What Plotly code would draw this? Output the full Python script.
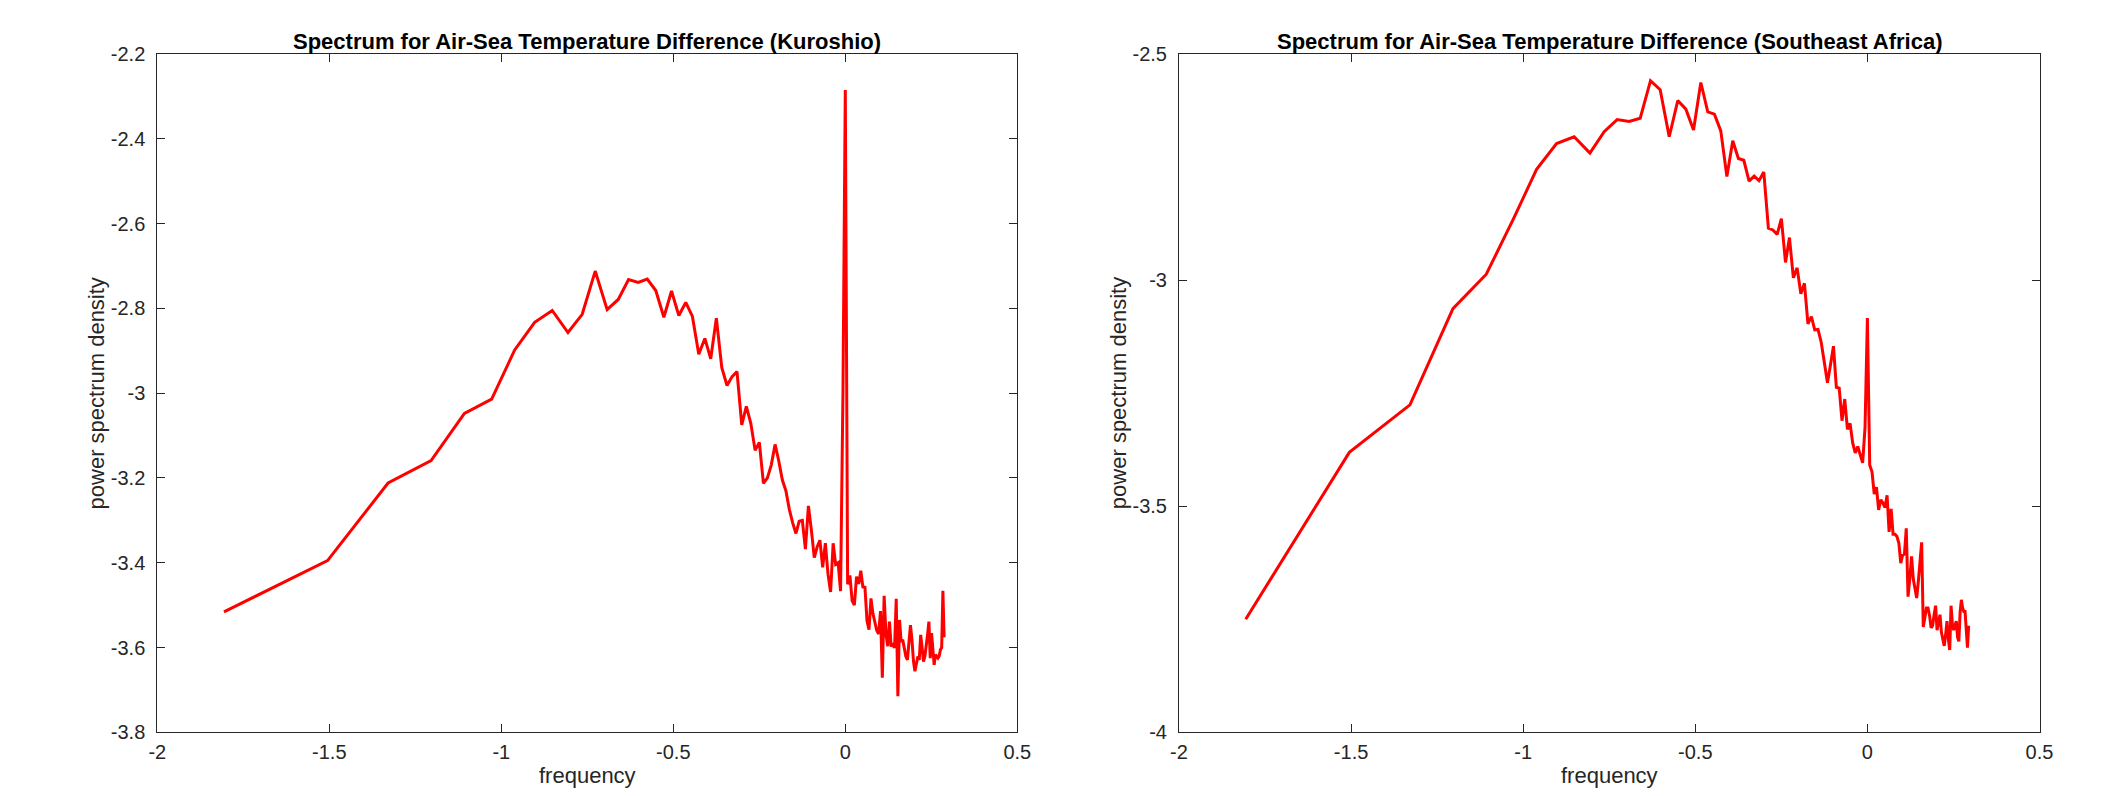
import math
import plotly.graph_objects as go

# Harmonic number k of each spectral estimate; frequency = k/64 (log10 on the x axis)
harmonic_kuroshio = list(range(1, 125))
harmonic_africa = list(range(1, 127))

psd_kuroshio = [
    -3.516, -3.395, -3.212, -3.159, -3.048, -3.014, -2.898, -2.833, -2.805, -2.857,
    -2.814, -2.712, -2.803, -2.779, -2.732, -2.739, -2.731, -2.758, -2.821, -2.759,
    -2.817, -2.786, -2.819, -2.908, -2.871, -2.919, -2.823, -2.940, -2.982, -2.961,
    -2.949, -3.075, -3.031, -3.071, -3.135, -3.116, -3.213, -3.200, -3.169, -3.121,
    -3.160, -3.205, -3.230, -3.274, -3.306, -3.331, -3.302, -3.300, -3.368, -3.266,
    -3.323, -3.388, -3.363, -3.347, -3.411, -3.354, -3.427, -3.469, -3.354, -3.404,
    -3.400, -3.467, -3.000, -2.285, -3.451, -3.430, -3.490, -3.500, -3.433, -3.450,
    -3.419, -3.457, -3.458, -3.537, -3.558, -3.484, -3.520, -3.540, -3.560, -3.568,
    -3.514, -3.671, -3.478, -3.567, -3.597, -3.539, -3.598, -3.590, -3.601, -3.485,
    -3.715, -3.535, -3.586, -3.582, -3.600, -3.621, -3.629, -3.590, -3.547, -3.582,
    -3.632, -3.656, -3.640, -3.621, -3.629, -3.570, -3.600, -3.633, -3.621, -3.598,
    -3.570, -3.539, -3.625, -3.566, -3.600, -3.641, -3.617, -3.620, -3.625, -3.620,
    -3.605, -3.600, -3.466, -3.576,
]

psd_africa = [
    -3.750, -3.381, -3.276, -3.063, -2.987, -2.864, -2.755, -2.698, -2.683, -2.719,
    -2.672, -2.645, -2.649, -2.642, -2.559, -2.579, -2.683, -2.603, -2.622, -2.668,
    -2.563, -2.628, -2.633, -2.670, -2.771, -2.692, -2.731, -2.735, -2.781, -2.770,
    -2.780, -2.761, -2.885, -2.889, -2.899, -2.864, -2.961, -2.906, -2.995, -2.973,
    -3.030, -3.007, -3.097, -3.081, -3.110, -3.109, -3.138, -3.182, -3.227, -3.187,
    -3.146, -3.237, -3.239, -3.311, -3.263, -3.330, -3.317, -3.360, -3.382, -3.368,
    -3.385, -3.404, -3.325, -3.084, -3.409, -3.424, -3.473, -3.458, -3.508, -3.486,
    -3.493, -3.503, -3.476, -3.557, -3.506, -3.562, -3.562, -3.567, -3.582, -3.626,
    -3.608, -3.606, -3.549, -3.700, -3.660, -3.611, -3.661, -3.680, -3.703, -3.666,
    -3.626, -3.580, -3.767, -3.740, -3.725, -3.725, -3.742, -3.769, -3.764, -3.740,
    -3.720, -3.774, -3.759, -3.740, -3.779, -3.794, -3.809, -3.784, -3.754, -3.794,
    -3.818, -3.720, -3.760, -3.774, -3.765, -3.754, -3.790, -3.799, -3.735, -3.707,
    -3.725, -3.733, -3.733, -3.770, -3.813, -3.764,
]

x_ticks = [-2, -1.5, -1, -0.5, 0, 0.5]
x_ticklabels = ["-2", "-1.5", "-1", "-0.5", "0", "0.5"]
y_ticks_kuroshio = [-3.8, -3.6, -3.4, -3.2, -3.0, -2.8, -2.6, -2.4, -2.2]
y_ticklabels_kuroshio = ["-3.8", "-3.6", "-3.4", "-3.2", "-3", "-2.8", "-2.6", "-2.4", "-2.2"]
y_ticks_africa = [-4, -3.5, -3, -2.5]
y_ticklabels_africa = ["-4", "-3.5", "-3", "-2.5"]

titles = ["Spectrum for Air-Sea Temperature Difference (Kuroshio)",
          "Spectrum for Air-Sea Temperature Difference (Southeast Africa)"]
x_label = "frequency"
y_label = "power spectrum density"

freq_kuroshio = [math.log10(k / 64) for k in harmonic_kuroshio]
freq_africa = [math.log10(k / 64) for k in harmonic_africa]

# The page body has an 8 px margin, so the figure is drawn 8 px smaller and
# all positions below are page positions minus that offset.
OFF = 8
W, H = 2103 - OFF, 796 - OFF
FONT = "Liberation Sans"
AX = "#262626"


def px(xpage):
    return (xpage - OFF) / W


def py(ypage):
    return 1 - (ypage - OFF) / H


dom_left = [px(157.3), px(1017.3)]
dom_right = [px(1179.0), px(2039.5)]
dom_y = [py(732.3), py(54.0)]

fig = go.Figure()
fig.add_trace(go.Scatter(x=freq_kuroshio, y=psd_kuroshio, mode="lines",
                         line=dict(color="#FF0000", width=3), xaxis="x", yaxis="y",
                         showlegend=False, hoverinfo="skip"))
fig.add_trace(go.Scatter(x=freq_africa, y=psd_africa, mode="lines",
                         line=dict(color="#FF0000", width=3), xaxis="x2", yaxis="y2",
                         showlegend=False, hoverinfo="skip"))

common = dict(showline=True, linecolor=AX, linewidth=1, mirror="ticks",
              ticks="inside", ticklen=8, tickcolor=AX, tickwidth=1,
              showgrid=False, zeroline=False, automargin=False,
              tickfont=dict(family=FONT, size=20, color=AX))

fig.update_layout(
    template="none",
    width=W, height=H, autosize=False,
    margin=dict(l=0, r=0, t=0, b=0, pad=0),
    paper_bgcolor="white", plot_bgcolor="white",
    xaxis=dict(domain=dom_left, range=[-2, 0.5], tickvals=x_ticks, ticktext=x_ticklabels,
               anchor="y", ticklabelstandoff=2, **common),
    yaxis=dict(domain=dom_y, range=[-3.8, -2.2], tickvals=y_ticks_kuroshio,
               ticktext=y_ticklabels_kuroshio, anchor="x", ticklabelstandoff=7, **common),
    xaxis2=dict(domain=dom_right, range=[-2, 0.5], tickvals=x_ticks, ticktext=x_ticklabels,
                anchor="y2", ticklabelstandoff=2, **common),
    yaxis2=dict(domain=dom_y, range=[-4, -2.5], tickvals=y_ticks_africa,
                ticktext=y_ticklabels_africa, anchor="x2", ticklabelstandoff=7, **common),
)

ann = []
for dom, title in [(dom_left, titles[0]), (dom_right, titles[1])]:
    cx = (dom[0] + dom[1]) / 2
    ann.append(dict(text="<b>" + title + "</b>", x=cx, y=py(41), xref="paper", yref="paper",
                    xanchor="center", yanchor="middle", showarrow=False,
                    font=dict(family=FONT, size=22, color="black")))
    ann.append(dict(text=x_label, x=cx, y=py(775), xref="paper", yref="paper",
                    xanchor="center", yanchor="middle", showarrow=False,
                    font=dict(family=FONT, size=22, color=AX)))
    ann.append(dict(text=y_label, x=dom[0], y=(dom_y[0] + dom_y[1]) / 2, xref="paper", yref="paper",
                    xanchor="center", yanchor="middle", xshift=-61, textangle=-90, showarrow=False,
                    font=dict(family=FONT, size=22, color=AX)))
fig.update_layout(annotations=ann)

fig.write_html("out.html")
